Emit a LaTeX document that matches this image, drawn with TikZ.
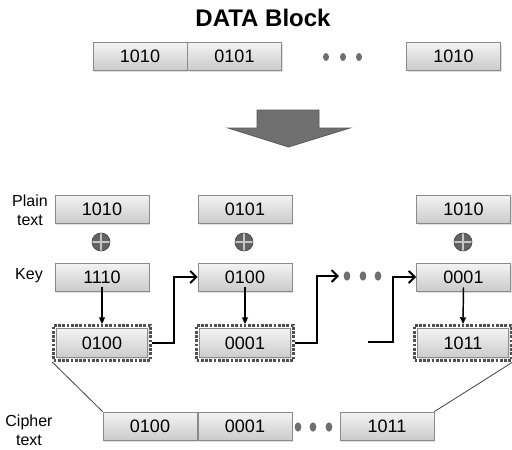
\documentclass[tikz,border=0pt]{standalone}
\usepackage{fontspec}
\setmainfont{Liberation Sans}
\usetikzlibrary{fit,shadows,arrows.meta,shapes.geometric}
\definecolor{boxline}{HTML}{8A8A8A}
\definecolor{boxtop}{HTML}{F4F4F4}
\definecolor{boxbot}{HTML}{CBCBCB}
\definecolor{frameline}{HTML}{505050}
\definecolor{dotgray}{HTML}{6E6E6E}
\definecolor{bigarrow}{HTML}{707070}
\tikzset{
  bitbox/.style={draw=boxline, line width=0.6pt, top color=boxtop, bottom color=boxbot,
    minimum width=70.5pt, minimum height=21pt, inner sep=0pt,
    font=\fontsize{13.5}{15}\selectfont,
    drop shadow={opacity=0.25, shadow xshift=1pt, shadow yshift=-1.2pt}},
  outbox/.style={bitbox, minimum width=68pt, minimum height=22pt},
  dotframe/.style={draw=frameline, line width=2pt, dash pattern=on 2pt off 1.2pt, inner sep=2pt},
  lbl/.style={font=\fontsize{12}{14.5}\selectfont, inner sep=0pt, align=center},
  dotnode/.style={ellipse, fill=dotgray, minimum width=5pt, minimum height=7pt, inner sep=0pt},
  xorsym/.style={circle, fill=dotgray!90!black, draw=dotgray!60!black, line width=0.5pt, minimum size=13.5pt, inner sep=0pt,
    path picture={\draw[gray!45, line width=1pt] (path picture bounding box.north) -- (path picture bounding box.south)
      (path picture bounding box.west) -- (path picture bounding box.east);}},
  downarr/.style={-{Triangle[length=5pt,width=4.5pt]}, line width=1.1pt, black},
  chain/.style={-{Straight Barb[length=4.5pt,width=9pt]}, line width=1.5pt, black},
  thinline/.style={line width=0.6pt, black!75},
}
\begin{document}
\begin{tikzpicture}[x=0.75pt,y=-0.75pt]
\useasboundingbox (0,0) rectangle (512,450);
% title
\node[font=\fontsize{18}{20}\bfseries\selectfont, inner sep=0pt] (title) at (263,18) {DATA Block};
% top data blocks
\node[bitbox] (d1) at (140,56) {1010};
\node[bitbox] (d2) at (234.5,56) {0101};
\node[dotnode, minimum width=4.5pt, minimum height=6pt] (td1) at (326,57) {};
\node[dotnode, minimum width=4.5pt, minimum height=6pt] (td2) at (343,57) {};
\node[dotnode, minimum width=4.5pt, minimum height=6pt] (td3) at (359,57) {};
\node[bitbox] (d3) at (453.5,56) {1010};
% big arrow
\draw[fill=bigarrow, draw=black!65, line width=0.6pt] (257,110) -- (319,110) -- (319,128) -- (350,128) -- (288.5,147) -- (228,128) -- (257,128) -- cycle;
% labels
\node[lbl] (lplain) at (30,210) {Plain\\text};
\node[lbl] (lkey) at (29,276) {Key};
\node[lbl] (lcipher) at (29,430) {Cipher\\text};
% column 1
\node[bitbox] (p1) at (102,209) {1010};
\node[xorsym] (x1) at (101,242) {};
\node[bitbox] (k1) at (102,277) {1110};
\node[outbox] (o1) at (102,343) {0100};
\node[dotframe, fit=(o1)] (f1) {};
% column 2
\node[bitbox] (p2) at (245,209) {0101};
\node[xorsym] (x2) at (244,242) {};
\node[bitbox] (k2) at (245,277) {0100};
\node[outbox] (o2) at (245,343) {0001};
\node[dotframe, fit=(o2)] (f2) {};
% middle dots
\node[dotnode] (md1) at (347,276) {};
\node[dotnode] (md2) at (363,276) {};
\node[dotnode] (md3) at (378,276) {};
\coordinate (mdin) at (339,276);
\coordinate (c3start) at (368,342);
% column 3
\node[bitbox] (p3) at (463.5,209) {1010};
\node[xorsym] (x3) at (463,242) {};
\node[bitbox] (k3) at (463.5,277) {0001};
\node[outbox] (o3) at (463,343) {1011};
\node[dotframe, fit=(o3)] (f3) {};
% down arrows
\draw[downarr] (k1.south) ++(0,-4) -- (f1.north);
\draw[downarr] (k2.south) ++(0,-4) -- (f2.north);
\draw[downarr] (k3.south) ++(0,-4) -- (f3.north);
% chain connectors
\draw[chain] (f1.east) -- ++(22,0) |- (k2.west);
\draw[chain] (f2.east) -- ++(22,0) |- (mdin);
\draw[chain] (c3start) -- ++(25,0) |- (k3.west);
% cipher text row
\node[bitbox] (c1) at (150,426) {0100};
\node[bitbox] (c2) at (245,426) {0001};
\node[dotnode] (cd1) at (298,427) {};
\node[dotnode] (cd2) at (313,427) {};
\node[dotnode] (cd3) at (329,427) {};
\node[bitbox] (c3) at (387,426) {1011};
% thin lines
\draw[thinline] (f1.south west) -- (c1.north west);
\draw[thinline] (f3.south east) -- (c3.north east);
\end{tikzpicture}
\end{document}
